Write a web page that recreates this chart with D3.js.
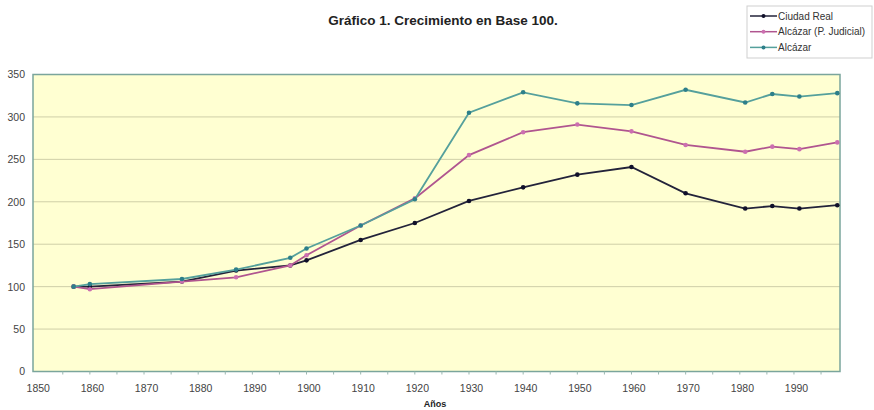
<!DOCTYPE html>
<html>
<head>
<meta charset="utf-8">
<script src="https://cdn.jsdelivr.net/npm/d3@7"></script>
<style>
  body { margin: 0; background: #fff; }
  svg { font-family: Arial, "Liberation Sans", sans-serif; }
  .tick text { fill: #444; font-size: 10.5px; }
</style>
</head>
<body>
<svg id="chart" width="874" height="410"></svg>
<script>
// census years
var years = [1857, 1860, 1877, 1887, 1897, 1900, 1910, 1920, 1930, 1940, 1950, 1960, 1970, 1981, 1986, 1991, 1998];

// base 100 values
var ciudadReal = [100, 100, 106, 119, 125, 131, 155, 175, 201, 217, 232, 241, 210, 192, 195, 192, 196];
var alcazarPJ  = [100, 97, 106, 111, 125, 137, 172, 204, 255, 282, 291, 283, 267, 259, 265, 262, 270];
var alcazar    = [100, 103, 109, 120, 134, 145, 172, 203, 305, 329, 316, 314, 332, 317, 327, 324, 328];

var seriesNames = ["Ciudad Real", "Alcázar (P. Judicial)", "Alcázar"];
var xTicks = [1850, 1860, 1870, 1880, 1890, 1900, 1910, 1920, 1930, 1940, 1950, 1960, 1970, 1980, 1990];
var yTicks = [0, 50, 100, 150, 200, 250, 300, 350];

var series = [
  { name: seriesNames[0], values: ciudadReal, line: "#23233a", dot: "#10102a" },
  { name: seriesNames[1], values: alcazarPJ, line: "#b0558f", dot: "#cc6fb0" },
  { name: seriesNames[2], values: alcazar, line: "#55a09c", dot: "#2d7f8a" }
];

var svg = d3.select("#chart");
var pLeft = 33, pRight = 840, pTop = 74.5, pBottom = 371.5;

var x = d3.scaleLinear().domain([1849.5, 1998.5]).range([pLeft, pRight]);
var y = d3.scaleLinear().domain([0, 350]).range([pBottom, pTop]);

// plot background
svg.append("rect")
  .attr("x", pLeft).attr("y", pTop)
  .attr("width", pRight - pLeft).attr("height", pBottom - pTop)
  .attr("fill", "#ffffd2");

// gridlines
svg.append("g")
  .selectAll("line")
  .data(yTicks.slice(1, -1))
  .enter().append("line")
    .attr("x1", pLeft).attr("x2", pRight)
    .attr("y1", function(d) { return y(d); })
    .attr("y2", function(d) { return y(d); })
    .attr("stroke", "#cfcfa8")
    .attr("stroke-width", 1);

// border
svg.append("rect")
  .attr("x", pLeft).attr("y", pTop)
  .attr("width", pRight - pLeft).attr("height", pBottom - pTop)
  .attr("fill", "none")
  .attr("stroke", "#7aa59c")
  .attr("stroke-width", 1.5);

// minor ticks on x axis every 5 years
var minor = d3.range(1855, 1999, 5);
svg.append("g")
  .selectAll("line")
  .data(minor)
  .enter().append("line")
    .attr("x1", function(d) { return x(d); })
    .attr("x2", function(d) { return x(d); })
    .attr("y1", pBottom).attr("y2", pBottom + 3)
    .attr("stroke", "#9ab8b0");

// axes
var xAxis = svg.append("g")
  .attr("transform", "translate(0," + pBottom + ")")
  .call(d3.axisBottom(x).tickValues(xTicks).tickFormat(d3.format("d")).tickSize(0).tickPadding(13));
xAxis.select(".domain").remove();
xAxis.selectAll("text").attr("dx", "2px");

var yAxis = svg.append("g")
  .attr("transform", "translate(" + pLeft + ",0)")
  .call(d3.axisLeft(y).tickValues(yTicks).tickSize(0).tickPadding(8));
yAxis.select(".domain").remove();

// lines
var line = d3.line()
  .x(function(d, i) { return x(years[i]); })
  .y(function(d) { return y(d); });

series.forEach(function(s) {
  svg.append("path")
    .datum(s.values)
    .attr("fill", "none")
    .attr("stroke", s.line)
    .attr("stroke-width", 1.8)
    .attr("d", line);

  svg.append("g")
    .selectAll("circle")
    .data(s.values)
    .enter().append("circle")
      .attr("cx", function(d, i) { return x(years[i]); })
      .attr("cy", function(d) { return y(d); })
      .attr("r", 2.3)
      .attr("fill", s.dot);
});

// title
svg.append("text")
  .attr("x", 443).attr("y", 25)
  .attr("text-anchor", "middle")
  .attr("font-size", "13.5px")
  .attr("font-weight", "bold")
  .attr("fill", "#222")
  .text("Gráfico 1. Crecimiento en Base 100.");

// x axis label
svg.append("text")
  .attr("x", 435).attr("y", 407)
  .attr("text-anchor", "middle")
  .attr("font-size", "9px")
  .attr("font-weight", "bold")
  .attr("fill", "#222")
  .text("Años");

// legend
var legend = svg.append("g").attr("transform", "translate(747,6)");
legend.append("rect")
  .attr("width", 125).attr("height", 52)
  .attr("fill", "#fff")
  .attr("stroke", "#cfcfcf");

var item = legend.selectAll(".item")
  .data(series)
  .enter().append("g")
    .attr("transform", function(d, i) { return "translate(0," + (10 + i * 15.7) + ")"; });

item.append("line")
  .attr("x1", 3).attr("x2", 30)
  .attr("stroke", function(d) { return d.line; })
  .attr("stroke-width", 1.5);
item.append("circle")
  .attr("cx", 16.5).attr("r", 2)
  .attr("fill", function(d) { return d.dot; });
item.append("text")
  .attr("x", 31).attr("y", 3.5)
  .attr("font-size", "10px")
  .attr("fill", "#333")
  .text(function(d) { return d.name; });
</script>
</body>
</html>
